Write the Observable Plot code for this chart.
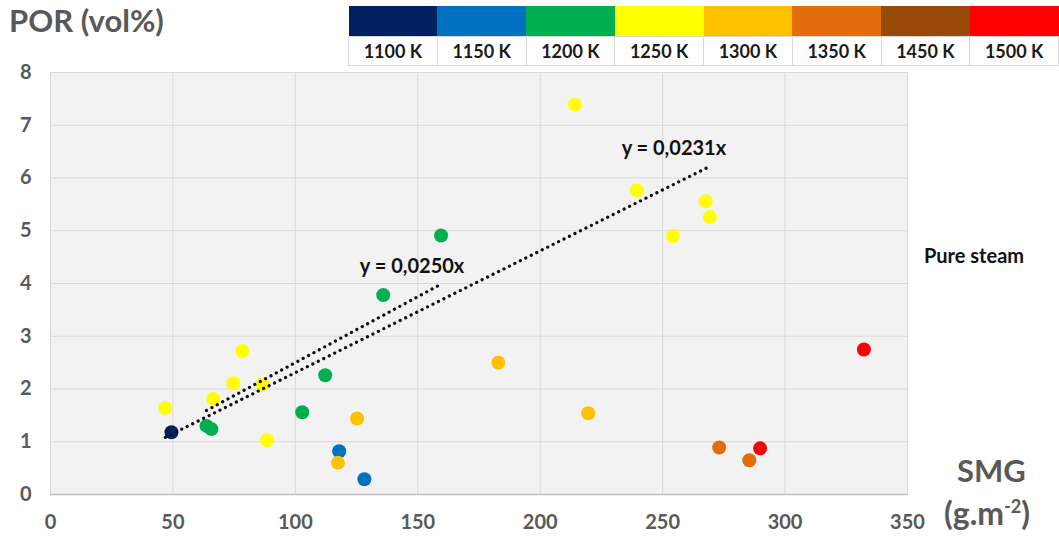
<!DOCTYPE html>
<html>
<head>
<meta charset="utf-8">
<script src="https://cdn.jsdelivr.net/npm/d3@7"></script>
<script src="https://cdn.jsdelivr.net/npm/@observablehq/plot@0.6"></script>
<style>
  html, body { margin: 0; padding: 0; background: #fff; }
  body { width: 1059px; height: 538px; position: relative; overflow: hidden; font-family: Lato, "Open Sans", sans-serif; }
  #chart { position: absolute; left: 0; top: 0; }
  .lbl { position: absolute; font-weight: bold; white-space: nowrap; line-height: 1; }
  #legend { position: absolute; left: 348px; top: 6px; border-collapse: collapse; table-layout: fixed; }
  #legend td { width: 88px; padding: 0; text-align: center; }
  #legend tr.sw td { height: 30px; }
  #legend tr.tx td { height: 28px; border: 1px solid #d9d9d9; font-weight: bold; font-size: 18px; color: #1a1a1a; }
</style>
</head>
<body>
<div id="chart"></div>
<div class="lbl" style="left:9px; top:5px; font-size:31px; color:#595959;">POR (vol%)</div>
<table id="legend"><tr class="sw"></tr><tr class="tx"></tr></table>
<div class="lbl" style="left:924px; top:245px; font-size:20px; color:#111;">Pure steam</div>
<div class="lbl" style="left:957px; top:455px; font-size:31px; color:#595959;">SMG</div>
<div class="lbl" style="left:944px; top:497px; font-size:32px; color:#595959;">(g.m<sup style="font-size:18px; vertical-align: 12px;">-2</sup>)</div>
<script>
// ---- data ----
const temps = ["1100 K", "1150 K", "1200 K", "1250 K", "1300 K", "1350 K", "1450 K", "1500 K"];
const tempColors = ["#002060", "#0070c0", "#00b050", "#ffff00", "#ffc000", "#e46c0a", "#984807", "#ff0000"];

const smg1100 = [49.4];
const por1100 = [1.18];
const smg1150 = [117.9, 128.2];
const por1150 = [0.82, 0.29];
const smg1200 = [63.7, 65.7, 102.8, 112.2, 135.9, 159.5];
const por1200 = [1.30, 1.24, 1.56, 2.26, 3.78, 4.91];
const smg1250 = [46.9, 66.5, 74.7, 78.3, 86.5, 88.5, 214.2, 239.5, 254.2, 267.6, 269.3];
const por1250 = [1.64, 1.81, 2.11, 2.72, 2.09, 1.03, 7.39, 5.77, 4.90, 5.56, 5.26];
const smg1300 = [117.4, 125.2, 182.9, 219.6];
const por1300 = [0.60, 1.44, 2.50, 1.54];
const smg1350 = [273.1, 285.4];
const por1350 = [0.89, 0.65];
const smg1450 = [];
const por1450 = [];
const smg1500 = [289.8, 332.2];
const por1500 = [0.875, 2.75];

const trendTemps = ["1200 K", "1250 K"];
const trendSlopes = [0.0250, 0.0231];
const trendLabels = ["y = 0,0250x", "y = 0,0231x"];

const xTicks = [0, 50, 100, 150, 200, 250, 300, 350];
const yTicks = [0, 1, 2, 3, 4, 5, 6, 7, 8];

// ---- legend table ----
const swRow = document.querySelector("#legend tr.sw");
const txRow = document.querySelector("#legend tr.tx");
temps.forEach((t, i) => {
  const a = document.createElement("td"); a.style.background = tempColors[i]; swRow.appendChild(a);
  const b = document.createElement("td"); b.textContent = t; txRow.appendChild(b);
});

// ---- build tables ----
const seriesSMG = [smg1100, smg1150, smg1200, smg1250, smg1300, smg1350, smg1450, smg1500];
const seriesPOR = [por1100, por1150, por1200, por1250, por1300, por1350, por1450, por1500];
const points = [];
temps.forEach((t, i) => seriesSMG[i].forEach((x, j) => points.push({temp: t, smg: x, por: seriesPOR[i][j]})));

const trendSegs = [];
const trendEnds = [];
trendTemps.forEach((t, k) => {
  const ext = d3.extent(points.filter(p => p.temp === t), p => p.smg);
  trendSegs.push({id: k, smg: ext[0], por: ext[0] * trendSlopes[k]});
  trendSegs.push({id: k, smg: ext[1], por: ext[1] * trendSlopes[k]});
  trendEnds.push({smg: ext[1], por: ext[1] * trendSlopes[k], label: trendLabels[k], k});
});
const labelDx = [-29, -36];

const gray = "#595959";
const chart = Plot.plot({
  width: 1059,
  height: 538,
  marginLeft: 50,
  marginRight: 152,
  marginTop: 72,
  marginBottom: 44,
  style: {fontFamily: "Lato, 'Open Sans', sans-serif", background: "transparent"},
  x: {domain: [0, 350], ticks: xTicks, label: null},
  y: {domain: [0, 8], ticks: yTicks, label: null},
  color: {domain: temps, range: tempColors},
  marks: [
    Plot.frame({fill: "#f2f2f2", stroke: "#d0d0d0"}),
    Plot.gridX(xTicks, {stroke: "#d9d9d9", strokeOpacity: 1}),
    Plot.gridY(yTicks, {stroke: "#d9d9d9", strokeOpacity: 1}),
    Plot.ruleY([0], {stroke: "#bfbfbf", strokeWidth: 1.5}),
    Plot.axisX(xTicks, {tickSize: 0, tickPadding: 20, fontSize: 20, fontWeight: "bold", fill: gray, label: null, tickFormat: d3.format("d")}),
    Plot.axisY(yTicks, {tickSize: 0, tickPadding: 19, fontSize: 20, fontWeight: "bold", fill: gray, label: null, tickFormat: d3.format("d")}),
    Plot.dot(points, {x: "smg", y: "por", fill: "temp", r: 7, stroke: "none"}),
    Plot.line(trendSegs, {x: "smg", y: "por", z: "id", stroke: "#111", strokeWidth: 3.2, strokeDasharray: "0.1 6", strokeLinecap: "round"}),
    ...trendEnds.map((e, k) => Plot.text([e], {x: "smg", y: "por", text: "label", dx: labelDx[k], dy: -18, textAnchor: "middle", fontSize: 20, fontWeight: "bold", fill: "#111"}))
  ]
});
document.getElementById("chart").appendChild(chart);
</script>
</body>
</html>
